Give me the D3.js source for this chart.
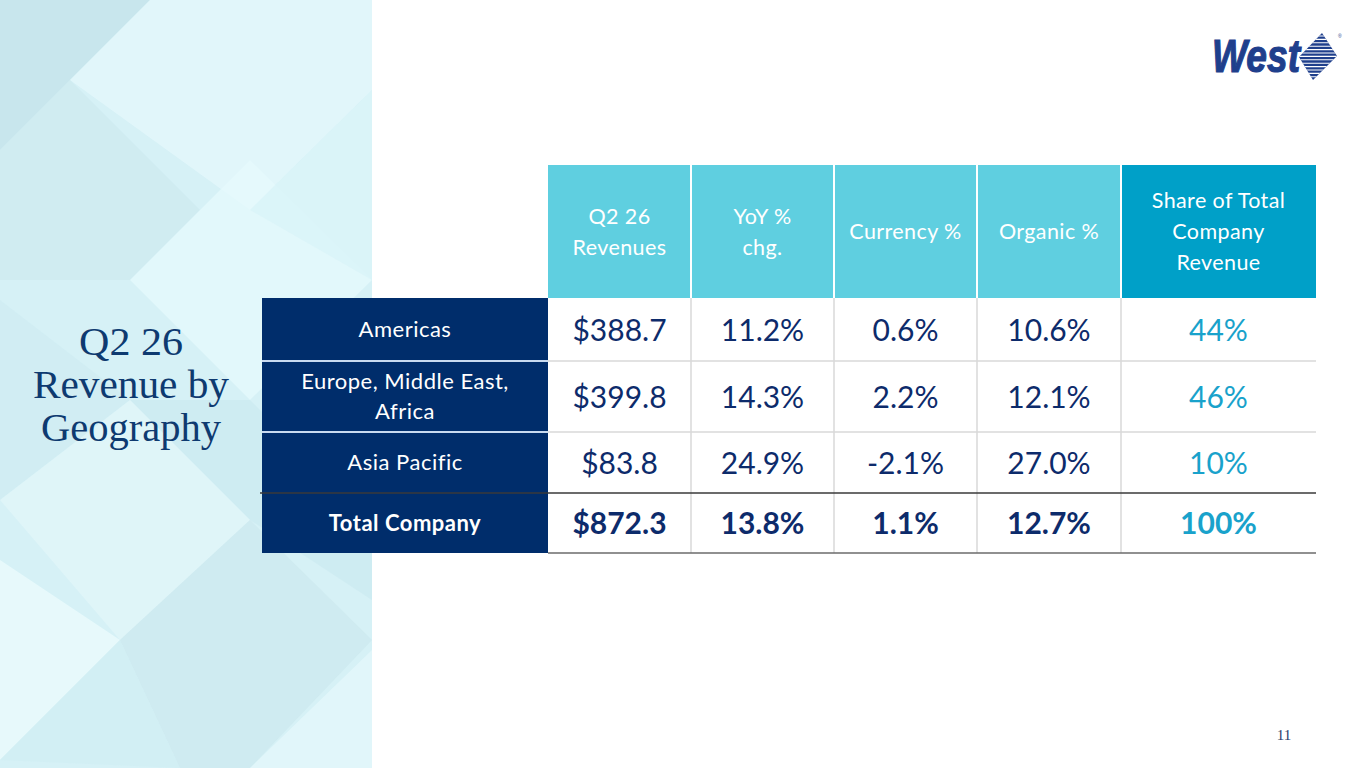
<!DOCTYPE html>
<html><head><meta charset="utf-8">
<script src="https://cdn.jsdelivr.net/npm/d3@7"></script>
<style>html,body{margin:0;padding:0;background:#fff;overflow:hidden}svg{display:block}</style>
</head><body>
<script>
// ---- data ----
const titleLines = ["Q2 26", "Revenue by", "Geography"];
const headers = [["Q2 26", "Revenues"], ["YoY %", "chg."], ["Currency %"], ["Organic %"], ["Share of Total", "Company", "Revenue"]];
const regions = [["Americas"], ["Europe, Middle East,", "Africa"], ["Asia Pacific"], ["Total Company"]];
const revenues = [388.7, 399.8, 83.8, 872.3];
const yoyPct = [11.2, 14.3, 24.9, 13.8];
const currencyPct = [0.6, 2.2, -2.1, 1.1];
const organicPct = [10.6, 12.1, 27.0, 12.7];
const sharePct = [44, 46, 10, 100];
const pageNumber = "11";

// ---- layout ----
const W = 1365, H = 768;
const svg = d3.select("body").append("svg").attr("width", W).attr("height", H);
const navy = "#002d6b", text = "#0d2b6b", cyan = "#5fcfe0", teal = "#00a0c8", shareC = "#19a2cb";

// background panel
const bg = svg.append("g");
bg.append("rect").attr("x", 0).attr("y", 0).attr("width", 372).attr("height", H).attr("fill", "#d6f1f6");
const polys = [
  {p: [[0,0],[150,0],[0,150]], f: "#c3e2e9", o: 0.75},
  {p: [[150,0],[372,0],[372,90],[250,210],[70,80]], f: "#e4f8fb", o: 0.8},
  {p: [[0,150],[70,80],[200,210],[130,280],[0,280]], f: "#cbe9ef", o: 0.6},
  {p: [[130,280],[250,160],[372,280],[250,400]], f: "#e6f9fc", o: 0.75},
  {p: [[250,210],[372,90],[372,280]], f: "#daf4f8", o: 0.9},
  {p: [[0,300],[130,400],[0,500]], f: "#cdebf1", o: 0.6},
  {p: [[130,400],[250,400],[372,520],[372,600],[250,520]], f: "#c9e7ee", o: 0.55},
  {p: [[0,500],[130,400],[250,520],[120,640]], f: "#e2f7fa", o: 0.7},
  {p: [[0,560],[120,640],[0,760]], f: "#eefcfe", o: 0.7},
  {p: [[120,640],[250,520],[372,640],[250,768],[180,768]], f: "#c8e6ec", o: 0.5},
  {p: [[0,760],[120,640],[180,768]], f: "#d0eef3", o: 0.7},
  {p: [[250,768],[372,650],[372,768]], f: "#e4f8fb", o: 0.8}
];
bg.selectAll("polygon").data(polys).join("polygon")
  .attr("points", d => d.p.map(q => q.join(",")).join(" "))
  .attr("fill", d => d.f).attr("opacity", d => d.o);

// title
const titleWidths = [104, 196, 180];
svg.append("g").selectAll("text").data(titleLines).join("text")
  .attr("x", 131).attr("y", (d, i) => 355 + i * 43)
  .attr("text-anchor", "middle")
  .attr("textLength", (d, i) => titleWidths[i]).attr("lengthAdjust", "spacingAndGlyphs")
  .attr("font-family", "'Liberation Serif', serif").attr("font-size", 40)
  .attr("fill", "#0e3a70").text(d => d);

// logo
const logo = svg.append("g");
logo.append("text").attr("x", 1212).attr("y", 72)
  .attr("font-family", "'Liberation Sans', Arial, sans-serif").attr("font-weight", "bold").attr("font-style", "italic")
  .attr("font-size", 46).attr("textLength", 88).attr("lengthAdjust", "spacingAndGlyphs")
  .attr("fill", "#1f3f8c").attr("stroke", "#1f3f8c").attr("stroke-width", 1.2).text("West");
const dpts = [[1322,33],[1337,56],[1313,80],[1299,57]];
svg.append("defs").append("clipPath").attr("id", "dclip").append("polygon").attr("points", dpts.map(q => q.join(",")).join(" "));
const dg = logo.append("g").attr("clip-path", "url(#dclip)");
dg.append("rect").attr("x", 1295).attr("y", 30).attr("width", 45).attr("height", 52).attr("fill", "#1f3f8c");
dg.selectAll("line").data(d3.range(36, 80, 3.4)).join("line")
  .attr("x1", 1295).attr("x2", 1340).attr("y1", d => d).attr("y2", d => d)
  .attr("stroke", "#fff").attr("stroke-width", 1.1);
logo.append("text").attr("x", 1338).attr("y", 38).attr("font-size", 5).attr("fill", "#1f3f8c").attr("font-family", "sans-serif").text("®");

// table
const colEdges = [262, 548, 691, 834, 977, 1121, 1316];
const headTop = 165, headBot = 298;
const rowEdges = [298, 361, 432, 493, 553];
const x = i => colEdges[i], cw = i => colEdges[i + 1] - colEdges[i];
const font = "Lato, 'Open Sans', sans-serif";

const tbl = svg.append("g");
// header cells
tbl.selectAll("rect.h").data(headers).join("rect").attr("class", "h")
  .attr("x", (d, i) => x(i + 1)).attr("y", headTop)
  .attr("width", (d, i) => cw(i + 1)).attr("height", headBot - headTop)
  .attr("fill", (d, i) => i === 4 ? teal : cyan);
// white separators in header
tbl.selectAll("line.hs").data(d3.range(2, 6)).join("line").attr("class", "hs")
  .attr("x1", i => x(i)).attr("x2", i => x(i)).attr("y1", headTop).attr("y2", headBot)
  .attr("stroke", "#fff").attr("stroke-width", 2);
const hg = tbl.selectAll("g.ht").data(headers).join("g").attr("class", "ht");
hg.selectAll("text").data((d, i) => d.map((t, k) => ({t, k, n: d.length, i}))).join("text")
  .attr("x", d => x(d.i + 1) + cw(d.i + 1) / 2)
  .attr("y", d => (headTop + headBot) / 2 + (d.k - (d.n - 1) / 2) * 31 + 7.5)
  .attr("text-anchor", "middle").attr("font-family", font).attr("font-size", 21.5)
  .attr("letter-spacing", 0.4)
  .attr("fill", "#fff").text(d => d.t);

// label column
tbl.selectAll("rect.l").data(regions).join("rect").attr("class", "l")
  .attr("x", x(0)).attr("y", (d, i) => rowEdges[i])
  .attr("width", cw(0)).attr("height", (d, i) => rowEdges[i + 1] - rowEdges[i])
  .attr("fill", navy);
tbl.selectAll("line.ls").data([1, 2]).join("line").attr("class", "ls")
  .attr("x1", x(0)).attr("x2", x(1)).attr("y1", i => rowEdges[i]).attr("y2", i => rowEdges[i])
  .attr("stroke", "#c9daf0").attr("stroke-width", 2);
const lg = tbl.selectAll("g.lt").data(regions).join("g").attr("class", "lt");
lg.selectAll("text").data((d, i) => d.map((t, k) => ({t, k, n: d.length, i}))).join("text")
  .attr("x", x(0) + cw(0) / 2)
  .attr("y", d => (rowEdges[d.i] + rowEdges[d.i + 1]) / 2 + (d.k - (d.n - 1) / 2) * 29.5 + 7.5)
  .attr("text-anchor", "middle").attr("font-family", font).attr("font-size", 22)
  .attr("letter-spacing", 0.5)
  .attr("font-weight", d => d.i === 3 ? "bold" : "normal")
  .attr("fill", "#fff").text(d => d.t);

// grid in data area
tbl.selectAll("line.rv").data(d3.range(2, 6)).join("line").attr("class", "rv")
  .attr("x1", i => x(i)).attr("x2", i => x(i)).attr("y1", headBot).attr("y2", rowEdges[4])
  .attr("stroke", "#d9d9d9").attr("stroke-width", 1.5);
tbl.selectAll("line.rh").data([1, 2]).join("line").attr("class", "rh")
  .attr("x1", x(1)).attr("x2", x(6)).attr("y1", i => rowEdges[i]).attr("y2", i => rowEdges[i])
  .attr("stroke", "#d9d9d9").attr("stroke-width", 1.5);
tbl.append("line").attr("x1", 260).attr("x2", x(6)).attr("y1", rowEdges[3]).attr("y2", rowEdges[3])
  .attr("stroke", "#3a3a3a").attr("stroke-width", 1.3);
tbl.append("line").attr("x1", x(1)).attr("x2", x(6)).attr("y1", rowEdges[4]).attr("y2", rowEdges[4])
  .attr("stroke", "#6b6b6b").attr("stroke-width", 1.5);

// values
const cols = [
  {v: revenues, f: d => "$" + d.toFixed(1), c: text},
  {v: yoyPct, f: d => d.toFixed(1) + "%", c: text},
  {v: currencyPct, f: d => d.toFixed(1) + "%", c: text},
  {v: organicPct, f: d => d.toFixed(1) + "%", c: text},
  {v: sharePct, f: d => d + "%", c: shareC}
];
const vg = tbl.selectAll("g.vc").data(cols).join("g").attr("class", "vc");
vg.selectAll("text").data((c, ci) => c.v.map((v, ri) => ({v, ri, ci, c}))).join("text")
  .attr("x", d => x(d.ci + 1) + cw(d.ci + 1) / 2)
  .attr("y", d => (rowEdges[d.ri] + rowEdges[d.ri + 1]) / 2 + 11)
  .attr("text-anchor", "middle").attr("font-family", font).attr("font-size", 30)
  .attr("font-weight", d => d.ri === 3 ? "bold" : "normal")
  .attr("fill", d => d.c.c).text(d => d.c.f(d.v));

// page number
svg.append("text").attr("x", 1284).attr("y", 740).attr("text-anchor", "middle")
  .attr("font-family", "'Liberation Serif', serif").attr("font-size", 15).attr("fill", "#2b3d6b").text(pageNumber);
</script>
</body></html>
